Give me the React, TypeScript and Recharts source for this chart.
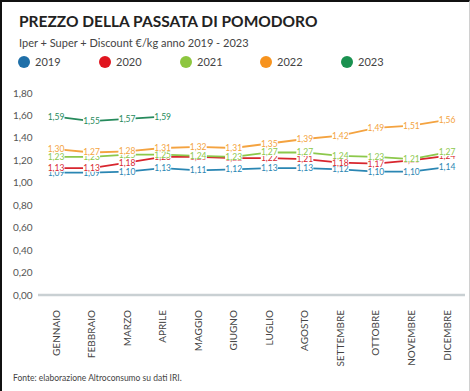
import { LineChart, Line, XAxis, YAxis, LabelList } from "recharts";

const months = [
  "GENNAIO",
  "FEBBRAIO",
  "MARZO",
  "APRILE",
  "MAGGIO",
  "GIUGNO",
  "LUGLIO",
  "AGOSTO",
  "SETTEMBRE",
  "OTTOBRE",
  "NOVEMBRE",
  "DICEMBRE",
];

const y2019 = [1.09, 1.09, 1.1, 1.13, 1.11, 1.12, 1.13, 1.13, 1.12, 1.1, 1.1, 1.14];
const y2020 = [1.13, 1.13, 1.18, 1.23, 1.23, 1.22, 1.22, 1.21, 1.18, 1.17, 1.2, 1.24];
const y2021 = [1.23, 1.23, 1.25, 1.25, 1.24, 1.23, 1.27, 1.27, 1.24, 1.23, 1.21, 1.27];
const y2022 = [1.3, 1.27, 1.28, 1.31, 1.32, 1.31, 1.35, 1.39, 1.42, 1.49, 1.51, 1.56];
const y2023 = [1.59, 1.55, 1.57, 1.59];

const yTicks = [0, 0.2, 0.4, 0.6, 0.8, 1.0, 1.2, 1.4, 1.6, 1.8];

const series = [
  { key: "2019", color: "#2a86b3", legend: "#1f6fa8" },
  { key: "2020", color: "#d8262e", legend: "#e0151f" },
  { key: "2021", color: "#8cc84b", legend: "#8dc63f" },
  { key: "2022", color: "#f4a340", legend: "#f7931e" },
  { key: "2023", color: "#268a5c", legend: "#1a9150" },
];

const data = months.map((m, i) => ({
  month: m,
  "2019": y2019[i],
  "2020": y2020[i],
  "2021": y2021[i],
  "2022": y2022[i],
  "2023": y2023[i],
}));

const fmt = (v: number) => v.toFixed(2).replace(".", ",");

const FONT = "Lato, 'Open Sans', sans-serif";

function makeLabel(color: string) {
  return (props: any) => {
    const { x, y, value } = props;
    if (value == null) return null;
    return (
      <g>
        <rect x={x - 8.5} y={y - 3.5} width={17} height={7} fill="#fff" />
        <text
          x={x}
          y={y}
          dy={3}
          textAnchor="middle"
          fontSize={8.5}
          fontFamily={FONT}
          fill={color}
        >
          {fmt(value)}
        </text>
      </g>
    );
  };
}

const XTick = (props: any) => {
  const { x, y, payload } = props;
  return (
    <text
      x={0}
      y={0}
      transform={`translate(${x + 3.5},${y + 7}) rotate(-90)`}
      textAnchor="end"
      fontSize={10}
      fontFamily={FONT}
      fill="#444"
    >
      {payload.value}
    </text>
  );
};

const YTick = (props: any) => {
  const { y, payload } = props;
  return (
    <text
      x={13}
      y={y}
      dy={3.5}
      textAnchor="start"
      fontSize={10}
      fontFamily={FONT}
      fill="#555"
    >
      {fmt(payload.value)}
    </text>
  );
};

export default function App() {
  return (
    <div
      style={{
        position: "fixed",
        left: 0,
        top: 0,
        width: 470,
        height: 391,
        background: "#fff",
        boxSizing: "border-box",
        borderTop: "2px solid #111",
        borderLeft: "2px solid #111",
        borderRight: "1px solid #d0d0d0",
        fontFamily: FONT,
        overflow: "hidden",
      }}
    >
      <div
        style={{
          position: "absolute",
          left: 17,
          top: 10,
          fontSize: 15.5,
          fontWeight: 700,
          color: "#222",
          whiteSpace: "nowrap",
        }}
      >
        PREZZO DELLA PASSATA DI POMODORO
      </div>
      <div
        style={{
          position: "absolute",
          left: 17,
          top: 34,
          fontSize: 11,
          color: "#444",
          whiteSpace: "nowrap",
        }}
      >
        Iper + Super + Discount €/kg anno 2019 - 2023
      </div>
      {series.map((s, i) => (
        <div
          key={s.key}
          style={{
            position: "absolute",
            left: [16, 97, 178, 258, 339][i],
            top: 53,
            display: "flex",
            alignItems: "center",
            fontSize: 11,
            color: "#444",
          }}
        >
          <span
            style={{
              width: 12,
              height: 12,
              borderRadius: 6,
              background: s.legend,
              display: "inline-block",
              marginRight: 5,
            }}
          />
          {s.key}
        </div>
      ))}
      <div style={{ position: "absolute", left: -2, top: 78 }}>
        <LineChart
          width={470}
          height={311}
          data={data}
          margin={{ top: 13, right: 5, bottom: 0, left: 0 }}
        >
          <XAxis
            dataKey="month"
            height={96}
            interval={0}
            tickLine={false}
            axisLine={{ stroke: "#c9d0d3", strokeWidth: 2.5 }}
            tick={<XTick />}
            padding={{ left: 18, right: 18 }}
          />
          <YAxis
            width={38}
            domain={[0, 1.8]}
            ticks={yTicks}
            interval={0}
            axisLine={false}
            tickLine={false}
            tick={<YTick />}
          />
          {series.map((s) => (
            <Line
              key={s.key}
              dataKey={s.key}
              type="linear"
              stroke={s.color}
              strokeWidth={1.8}
              dot={false}
              activeDot={false}
              connectNulls={false}
              isAnimationActive={false}
            >
              <LabelList dataKey={s.key} content={makeLabel(s.color)} />
            </Line>
          ))}
        </LineChart>
      </div>
      <div
        style={{
          position: "absolute",
          left: 11,
          top: 371,
          fontSize: 8.5,
          color: "#444",
          whiteSpace: "nowrap",
        }}
      >
        Fonte: elaborazione Altroconsumo su dati IRI.
      </div>
    </div>
  );
}
